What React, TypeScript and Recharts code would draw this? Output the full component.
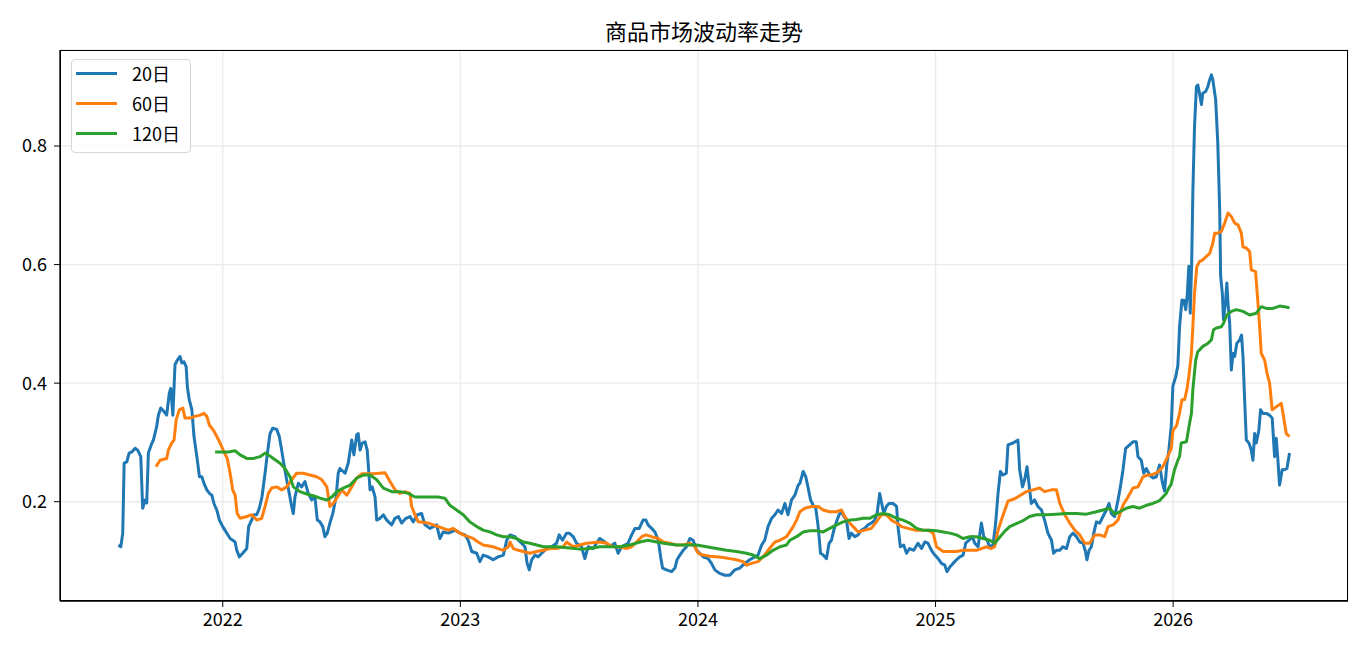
import React from 'react';
import { CartesianGrid, Legend, Line, LineChart, XAxis, YAxis } from 'recharts';

const FONT = '"Noto Sans CJK SC", "Noto Sans", sans-serif';

const title = '商品市场波动率走势';
const yearTicks = [2022, 2023, 2024, 2025, 2026];
const volTicks = [0.2, 0.4, 0.6, 0.8];

// 20日 (time as decimal year)
const t20 = [
  2021.561, 2021.571, 2021.579, 2021.585, 2021.596, 2021.606, 2021.617, 2021.631, 2021.642, 2021.655,
  2021.663, 2021.673, 2021.68, 2021.687, 2021.701, 2021.708, 2021.722, 2021.729, 2021.739, 2021.753,
  2021.764, 2021.775, 2021.781, 2021.79, 2021.799, 2021.809, 2021.82, 2021.828, 2021.837, 2021.846,
  2021.851, 2021.859, 2021.87, 2021.879, 2021.891, 2021.902, 2021.912, 2021.921, 2021.933, 2021.944,
  2021.954, 2021.963, 2021.975, 2021.986, 2022.0, 2022.014, 2022.031, 2022.042, 2022.052, 2022.059,
  2022.07, 2022.084, 2022.101, 2022.109, 2022.118, 2022.132, 2022.143, 2022.154, 2022.165, 2022.178,
  2022.188, 2022.199, 2022.21, 2022.227, 2022.238, 2022.248, 2022.258, 2022.269, 2022.28, 2022.29,
  2022.297, 2022.304, 2022.318, 2022.332, 2022.346, 2022.36, 2022.374, 2022.388, 2022.398, 2022.409,
  2022.421, 2022.43, 2022.44, 2022.451, 2022.463, 2022.477, 2022.486, 2022.493, 2022.515, 2022.528,
  2022.543, 2022.552, 2022.564, 2022.57, 2022.578, 2022.587, 2022.599, 2022.608, 2022.62, 2022.629,
  2022.641, 2022.648, 2022.662, 2022.676, 2022.69, 2022.711, 2022.725, 2022.739, 2022.753, 2022.771,
  2022.788, 2022.802, 2022.819, 2022.837, 2022.851, 2022.872, 2022.886, 2022.9, 2022.914, 2022.928,
  2022.949, 2022.963, 2022.977, 2022.998, 2023.019, 2023.033, 2023.048, 2023.069, 2023.082, 2023.096,
  2023.117, 2023.138, 2023.159, 2023.181, 2023.195, 2023.209, 2023.23, 2023.244, 2023.258, 2023.272,
  2023.281, 2023.29, 2023.3, 2023.314, 2023.328, 2023.342, 2023.363, 2023.384, 2023.405, 2023.416,
  2023.43, 2023.447, 2023.458, 2023.475, 2023.489, 2023.51, 2023.524, 2023.538, 2023.559, 2023.573,
  2023.587, 2023.608, 2023.629, 2023.65, 2023.664, 2023.679, 2023.692, 2023.706, 2023.721, 2023.735,
  2023.753, 2023.769, 2023.781, 2023.79, 2023.805, 2023.819, 2023.833, 2023.843, 2023.851, 2023.868,
  2023.889, 2023.903, 2023.912, 2023.924, 2023.938, 2023.952, 2023.966, 2023.98, 2023.994, 2024.008,
  2024.022, 2024.043, 2024.057, 2024.071, 2024.092, 2024.113, 2024.134, 2024.155, 2024.176, 2024.197,
  2024.218, 2024.239, 2024.253, 2024.268, 2024.281, 2024.295, 2024.31, 2024.324, 2024.337, 2024.352,
  2024.366, 2024.379, 2024.394, 2024.408, 2024.422, 2024.429, 2024.443, 2024.454, 2024.464, 2024.474,
  2024.485, 2024.496, 2024.506, 2024.516, 2024.527, 2024.541, 2024.552, 2024.562, 2024.572, 2024.583,
  2024.594, 2024.604, 2024.615, 2024.625, 2024.636, 2024.646, 2024.66, 2024.674, 2024.688, 2024.702,
  2024.716, 2024.73, 2024.744, 2024.754, 2024.765, 2024.772, 2024.782, 2024.793, 2024.804, 2024.821,
  2024.836, 2024.842, 2024.852, 2024.866, 2024.878, 2024.891, 2024.908, 2024.926, 2024.941, 2024.955,
  2024.968, 2024.983, 2024.997, 2025.011, 2025.025, 2025.039, 2025.048, 2025.06, 2025.074, 2025.088,
  2025.102, 2025.116, 2025.127, 2025.141, 2025.155, 2025.165, 2025.179, 2025.193, 2025.203, 2025.217,
  2025.228, 2025.242, 2025.253, 2025.263, 2025.273, 2025.284, 2025.298, 2025.305, 2025.326, 2025.347,
  2025.354, 2025.366, 2025.375, 2025.385, 2025.393, 2025.403, 2025.417, 2025.431, 2025.446, 2025.459,
  2025.473, 2025.488, 2025.497, 2025.509, 2025.523, 2025.536, 2025.551, 2025.565, 2025.578, 2025.593,
  2025.607, 2025.621, 2025.631, 2025.637, 2025.646, 2025.656, 2025.666, 2025.677, 2025.691, 2025.705,
  2025.719, 2025.73, 2025.74, 2025.754, 2025.768, 2025.778, 2025.789, 2025.8, 2025.817, 2025.831,
  2025.845, 2025.852, 2025.866, 2025.876, 2025.887, 2025.901, 2025.915, 2025.929, 2025.943, 2025.955,
  2025.964, 2025.974, 2025.982, 2025.992, 2025.999, 2026.011, 2026.02, 2026.027, 2026.037, 2026.045,
  2026.053, 2026.06, 2026.066, 2026.072, 2026.078, 2026.083, 2026.09, 2026.098, 2026.104, 2026.111,
  2026.119, 2026.125, 2026.137, 2026.146, 2026.154, 2026.161, 2026.167, 2026.179, 2026.188, 2026.196,
  2026.2, 2026.207, 2026.212, 2026.221, 2026.226, 2026.232, 2026.238, 2026.245, 2026.252, 2026.259,
  2026.268, 2026.28, 2026.288, 2026.294, 2026.301, 2026.308, 2026.319, 2026.329, 2026.336, 2026.343,
  2026.35, 2026.361, 2026.368, 2026.378, 2026.392, 2026.406, 2026.417, 2026.427, 2026.434, 2026.441,
  2026.448, 2026.459, 2026.469, 2026.479, 2026.49,
];
const v20 = [
  0.127, 0.124, 0.147, 0.265, 0.267, 0.282, 0.284, 0.29, 0.287, 0.276,
  0.189, 0.203, 0.198, 0.282, 0.298, 0.304, 0.327, 0.346, 0.358, 0.352,
  0.346, 0.383, 0.391, 0.346, 0.431, 0.439, 0.445, 0.434, 0.436, 0.428,
  0.394, 0.372, 0.355, 0.31, 0.276, 0.242, 0.242, 0.231, 0.22, 0.214,
  0.211, 0.197, 0.186, 0.169, 0.158, 0.149, 0.138, 0.135, 0.132, 0.118,
  0.107, 0.113, 0.121, 0.158, 0.166, 0.178, 0.178, 0.189, 0.208, 0.248,
  0.282, 0.315, 0.324, 0.322, 0.31, 0.287, 0.262, 0.237, 0.214, 0.192,
  0.18, 0.208, 0.231, 0.225, 0.234, 0.214, 0.203, 0.208, 0.169, 0.166,
  0.158, 0.141, 0.147, 0.164, 0.18, 0.208, 0.248, 0.256, 0.248, 0.265,
  0.304, 0.279, 0.313, 0.315, 0.287, 0.299, 0.301, 0.287, 0.22, 0.225,
  0.208, 0.169, 0.172, 0.178, 0.169, 0.161, 0.172, 0.175, 0.164, 0.172,
  0.175, 0.166, 0.178, 0.18, 0.161, 0.155, 0.158, 0.161, 0.138, 0.149,
  0.147, 0.149, 0.152, 0.147, 0.144, 0.135, 0.116, 0.113, 0.099, 0.11,
  0.107, 0.102, 0.107, 0.11, 0.135, 0.144, 0.141, 0.135, 0.13, 0.124,
  0.096, 0.085, 0.102, 0.11, 0.107, 0.113, 0.121, 0.124, 0.13, 0.144,
  0.135, 0.147, 0.147, 0.141, 0.13, 0.124, 0.104, 0.124, 0.121, 0.13,
  0.138, 0.132, 0.124, 0.13, 0.113, 0.124, 0.127, 0.13, 0.144, 0.155,
  0.155, 0.169, 0.169, 0.161, 0.155, 0.149, 0.135, 0.107, 0.088, 0.085,
  0.082, 0.088, 0.102, 0.11, 0.118, 0.124, 0.138, 0.135, 0.118, 0.113,
  0.107, 0.104, 0.096, 0.085, 0.079, 0.076, 0.076, 0.085, 0.088, 0.096,
  0.102, 0.107, 0.11, 0.127, 0.135, 0.158, 0.172, 0.178, 0.186, 0.18,
  0.197, 0.178, 0.203, 0.211, 0.228, 0.231, 0.251, 0.242, 0.223, 0.203,
  0.194, 0.189, 0.158, 0.113, 0.11, 0.104, 0.13, 0.135, 0.152, 0.166,
  0.178, 0.183, 0.175, 0.169, 0.138, 0.147, 0.141, 0.144, 0.152, 0.155,
  0.161, 0.164, 0.169, 0.18, 0.214, 0.2, 0.18, 0.192, 0.197, 0.197,
  0.192, 0.158, 0.124, 0.127, 0.113, 0.121, 0.118, 0.13, 0.121, 0.132,
  0.13, 0.118, 0.11, 0.104, 0.096, 0.093, 0.082, 0.09, 0.096, 0.102,
  0.107, 0.11, 0.13, 0.135, 0.141, 0.13, 0.124, 0.164, 0.141, 0.135,
  0.124, 0.127, 0.164, 0.214, 0.251, 0.245, 0.248, 0.296, 0.299, 0.304,
  0.254, 0.225, 0.237, 0.259, 0.231, 0.197, 0.203, 0.192, 0.186, 0.169,
  0.147, 0.135, 0.113, 0.118, 0.118, 0.124, 0.121, 0.141, 0.147, 0.141,
  0.132, 0.13, 0.116, 0.102, 0.118, 0.124, 0.147, 0.166, 0.164, 0.175,
  0.186, 0.197, 0.18, 0.175, 0.203, 0.225, 0.254, 0.29, 0.296, 0.301,
  0.301, 0.276, 0.27, 0.248, 0.256, 0.245, 0.24, 0.242, 0.262, 0.232,
  0.218, 0.265, 0.287, 0.327, 0.395, 0.411, 0.43, 0.495, 0.54, 0.54,
  0.524, 0.552, 0.597, 0.518, 0.602, 0.721, 0.833, 0.9, 0.903, 0.889,
  0.87, 0.889, 0.892, 0.9, 0.912, 0.92, 0.912, 0.878, 0.805, 0.692,
  0.58, 0.552, 0.507, 0.54, 0.569, 0.529, 0.501, 0.422, 0.45, 0.445,
  0.467, 0.473, 0.481, 0.445, 0.372, 0.304, 0.299, 0.287, 0.27, 0.315,
  0.299, 0.321, 0.355, 0.349, 0.349, 0.346, 0.341, 0.276, 0.307, 0.27,
  0.228, 0.254, 0.254, 0.256, 0.282,
];

// 60日
const t60 = [
  2021.719, 2021.736, 2021.764, 2021.771, 2021.785, 2021.795, 2021.804, 2021.817, 2021.832, 2021.841,
  2021.862, 2021.883, 2021.905, 2021.921, 2021.933, 2021.944, 2021.96, 2021.975, 2021.989, 2022.005,
  2022.019, 2022.031, 2022.042, 2022.052, 2022.061, 2022.073, 2022.101, 2022.122, 2022.143, 2022.164,
  2022.178, 2022.192, 2022.206, 2022.227, 2022.248, 2022.269, 2022.29, 2022.311, 2022.339, 2022.367,
  2022.395, 2022.417, 2022.438, 2022.451, 2022.465, 2022.48, 2022.501, 2022.522, 2022.543, 2022.564,
  2022.585, 2022.634, 2022.683, 2022.704, 2022.725, 2022.746, 2022.767, 2022.788, 2022.795, 2022.809,
  2022.823, 2022.865, 2022.907, 2022.949, 2022.97, 2022.991, 2023.012, 2023.033, 2023.054, 2023.075,
  2023.096, 2023.138, 2023.159, 2023.181, 2023.202, 2023.209, 2023.223, 2023.244, 2023.265, 2023.293,
  2023.321, 2023.349, 2023.377, 2023.405, 2023.433, 2023.447, 2023.475, 2023.503, 2023.531, 2023.587,
  2023.616, 2023.643, 2023.671, 2023.7, 2023.721, 2023.742, 2023.763, 2023.781, 2023.805, 2023.833,
  2023.854, 2023.882, 2023.91, 2023.938, 2023.966, 2023.987, 2024.001, 2024.022, 2024.05, 2024.078,
  2024.106, 2024.134, 2024.162, 2024.19, 2024.204, 2024.226, 2024.253, 2024.274, 2024.295, 2024.324,
  2024.345, 2024.373, 2024.401, 2024.415, 2024.429, 2024.45, 2024.478, 2024.506, 2024.527, 2024.555,
  2024.583, 2024.604, 2024.618, 2024.639, 2024.66, 2024.674, 2024.702, 2024.73, 2024.751, 2024.772,
  2024.793, 2024.814, 2024.836, 2024.857, 2024.884, 2024.913, 2024.968, 2024.99, 2025.004, 2025.032,
  2025.088, 2025.116, 2025.172, 2025.193, 2025.214, 2025.235, 2025.249, 2025.263, 2025.284, 2025.305,
  2025.333, 2025.354, 2025.382, 2025.41, 2025.438, 2025.459, 2025.488, 2025.509, 2025.523, 2025.544,
  2025.565, 2025.586, 2025.607, 2025.628, 2025.649, 2025.67, 2025.691, 2025.712, 2025.726, 2025.747,
  2025.768, 2025.789, 2025.81, 2025.831, 2025.852, 2025.873, 2025.894, 2025.915, 2025.936, 2025.957,
  2025.978, 2025.992, 2025.999, 2026.014, 2026.027, 2026.037, 2026.048, 2026.058, 2026.066, 2026.077,
  2026.083, 2026.09, 2026.1, 2026.111, 2026.125, 2026.14, 2026.154, 2026.167, 2026.175, 2026.188,
  2026.203, 2026.217, 2026.231, 2026.245, 2026.259, 2026.273, 2026.287, 2026.294, 2026.308, 2026.322,
  2026.329, 2026.347, 2026.357, 2026.364, 2026.371, 2026.385, 2026.395, 2026.406, 2026.417, 2026.434,
  2026.455, 2026.465, 2026.476, 2026.49,
];
const v60 = [
  0.259, 0.27, 0.273, 0.287, 0.299, 0.304, 0.338, 0.355, 0.358, 0.341,
  0.341, 0.344, 0.346, 0.349, 0.344, 0.329, 0.321, 0.31, 0.299, 0.284,
  0.273, 0.248, 0.22, 0.211, 0.18, 0.172, 0.175, 0.178, 0.169, 0.172,
  0.192, 0.214, 0.223, 0.225, 0.22, 0.225, 0.237, 0.248, 0.248, 0.245,
  0.242, 0.237, 0.225, 0.192, 0.197, 0.206, 0.22, 0.211, 0.225, 0.24,
  0.247, 0.247, 0.249, 0.234, 0.22, 0.214, 0.217, 0.214, 0.192, 0.178,
  0.166, 0.164, 0.158, 0.152, 0.155, 0.149, 0.144, 0.141, 0.138, 0.132,
  0.127, 0.124, 0.121, 0.118, 0.124, 0.132, 0.121, 0.118, 0.116, 0.113,
  0.116, 0.118, 0.121, 0.121, 0.124, 0.132, 0.124, 0.127, 0.13, 0.132,
  0.13, 0.124, 0.124, 0.121, 0.124, 0.132, 0.141, 0.144, 0.141, 0.138,
  0.132, 0.13, 0.127, 0.127, 0.13, 0.124, 0.113, 0.11, 0.108, 0.107,
  0.106, 0.104, 0.102, 0.099, 0.093, 0.096, 0.099, 0.107, 0.118, 0.132,
  0.135, 0.141, 0.158, 0.169, 0.183, 0.189, 0.192, 0.192, 0.186, 0.183,
  0.183, 0.186, 0.175, 0.164, 0.155, 0.149, 0.152, 0.155, 0.166, 0.178,
  0.178, 0.169, 0.164, 0.158, 0.155, 0.152, 0.152, 0.147, 0.124, 0.116,
  0.116, 0.118, 0.118, 0.121, 0.124, 0.121, 0.124, 0.152, 0.177, 0.201,
  0.205, 0.21, 0.217, 0.22, 0.223, 0.217, 0.22, 0.22, 0.197, 0.178,
  0.164, 0.152, 0.144, 0.13, 0.13, 0.144, 0.144, 0.141, 0.158, 0.161,
  0.169, 0.194, 0.208, 0.223, 0.225, 0.242, 0.245, 0.246, 0.25, 0.259,
  0.277, 0.29, 0.32, 0.328, 0.349, 0.372, 0.372, 0.389, 0.411, 0.45,
  0.495, 0.552, 0.597, 0.605, 0.608, 0.614, 0.619, 0.636, 0.653, 0.653,
  0.656, 0.67, 0.687, 0.681, 0.67, 0.667, 0.653, 0.63, 0.628, 0.622,
  0.591, 0.588, 0.535, 0.495, 0.45, 0.439, 0.417, 0.4, 0.355, 0.36,
  0.366, 0.343, 0.315, 0.31,
];

// 120日
const t120 = [
  2021.968, 2021.996, 2022.024, 2022.052, 2022.073, 2022.101, 2022.129, 2022.157, 2022.178, 2022.192,
  2022.213, 2022.241, 2022.262, 2022.283, 2022.297, 2022.325, 2022.353, 2022.381, 2022.409, 2022.438,
  2022.459, 2022.48, 2022.507, 2022.536, 2022.564, 2022.592, 2022.62, 2022.648, 2022.676, 2022.711,
  2022.746, 2022.781, 2022.809, 2022.837, 2022.872, 2022.907, 2022.935, 2022.956, 2022.984, 2023.012,
  2023.04, 2023.069, 2023.096, 2023.125, 2023.153, 2023.181, 2023.209, 2023.237, 2023.265, 2023.293,
  2023.321, 2023.349, 2023.405, 2023.461, 2023.503, 2023.545, 2023.587, 2023.629, 2023.671, 2023.714,
  2023.756, 2023.79, 2023.826, 2023.868, 2023.91, 2023.952, 2023.994, 2024.036, 2024.078, 2024.12,
  2024.162, 2024.204, 2024.232, 2024.26, 2024.289, 2024.316, 2024.345, 2024.373, 2024.387, 2024.415,
  2024.443, 2024.471, 2024.499, 2024.527, 2024.555, 2024.583, 2024.611, 2024.639, 2024.667, 2024.695,
  2024.723, 2024.751, 2024.779, 2024.807, 2024.836, 2024.863, 2024.891, 2024.92, 2024.947, 2024.976,
  2025.004, 2025.032, 2025.06, 2025.088, 2025.116, 2025.144, 2025.172, 2025.2, 2025.228, 2025.249,
  2025.27, 2025.291, 2025.312, 2025.34, 2025.368, 2025.396, 2025.425, 2025.467, 2025.509, 2025.551,
  2025.593, 2025.635, 2025.677, 2025.705, 2025.733, 2025.754, 2025.775, 2025.803, 2025.831, 2025.859,
  2025.887, 2025.915, 2025.943, 2025.957, 2025.971, 2025.978, 2025.992, 2026.006, 2026.02, 2026.027,
  2026.034, 2026.056, 2026.069, 2026.077, 2026.083, 2026.095, 2026.104, 2026.125, 2026.146, 2026.161,
  2026.17, 2026.182, 2026.203, 2026.212, 2026.226, 2026.245, 2026.266, 2026.294, 2026.322, 2026.35,
  2026.371, 2026.392, 2026.42, 2026.448, 2026.469, 2026.49,
];
const v120 = [
  0.284, 0.284, 0.284, 0.286, 0.279, 0.273, 0.273, 0.276, 0.282, 0.279,
  0.273, 0.265, 0.256, 0.242, 0.225, 0.217, 0.213, 0.21, 0.206, 0.203,
  0.208, 0.217, 0.223, 0.228, 0.24, 0.245, 0.245, 0.237, 0.223, 0.217,
  0.217, 0.214, 0.208, 0.208, 0.208, 0.208, 0.206, 0.194, 0.186, 0.178,
  0.166, 0.158, 0.152, 0.149, 0.144, 0.141, 0.141, 0.138, 0.132, 0.13,
  0.127, 0.124, 0.124, 0.122, 0.12, 0.121, 0.124, 0.124, 0.124, 0.127,
  0.132, 0.135, 0.132, 0.129, 0.127, 0.127, 0.127, 0.124, 0.121, 0.118,
  0.116, 0.113, 0.11, 0.104, 0.11, 0.118, 0.124, 0.127, 0.135, 0.141,
  0.149, 0.151, 0.151, 0.149, 0.155, 0.161, 0.166, 0.169, 0.17, 0.172,
  0.172, 0.178, 0.18, 0.178, 0.172, 0.169, 0.164, 0.155, 0.152, 0.152,
  0.151, 0.149, 0.147, 0.144, 0.138, 0.141, 0.141, 0.138, 0.135, 0.13,
  0.14, 0.15, 0.158, 0.163, 0.168, 0.175, 0.178, 0.178, 0.179, 0.18,
  0.18, 0.179, 0.183, 0.186, 0.189, 0.179, 0.183, 0.189, 0.192, 0.189,
  0.194, 0.197, 0.202, 0.208, 0.214, 0.22, 0.23, 0.254, 0.27, 0.276,
  0.299, 0.301, 0.332, 0.349, 0.389, 0.439, 0.453, 0.462, 0.467, 0.473,
  0.49, 0.493, 0.495, 0.501, 0.515, 0.521, 0.524, 0.521, 0.515, 0.518,
  0.529, 0.526, 0.526, 0.53, 0.529, 0.527,
];

const series = [
  { name: '20日', color: '#1f77b4', t: t20, v: v20 },
  { name: '60日', color: '#ff7f0e', t: t60, v: v60 },
  { name: '120日', color: '#2ca02c', t: t120, v: v120 },
];

const X_DOMAIN: [number, number] = [2021.315, 2026.736];
const Y_DOMAIN: [number, number] = [0.0325, 0.962];

const tickStyle = { fill: '#000', fontSize: 18, fontFamily: FONT };
const axisStroke = { stroke: '#000', strokeWidth: 1.3 };

const LegendBox = () => (
  <div
    style={{
      border: '1px solid #d6d6d6',
      borderRadius: 4,
      background: 'rgba(255,255,255,0.8)',
      padding: '0 10px 4px 4px',
      fontFamily: FONT,
      fontSize: 18,
      color: '#000',
    }}
  >
    <div style={{ marginTop: -2 }}>
      {series.map((s) => (
        <div key={s.name} style={{ display: 'flex', alignItems: 'center', height: 30 }}>
          <span style={{ display: 'inline-block', width: 41, height: 3, background: s.color, marginRight: 15 }} />
          <span>{s.name}</span>
        </div>
      ))}
    </div>
  </div>
);

export default function App() {
  return (
    <div style={{ position: 'absolute', left: 0, top: 0, width: 1368, height: 657, background: '#fff' }}>
      <div
        style={{
          position: 'absolute',
          left: 60,
          width: 1288,
          top: 19,
          textAlign: 'center',
          fontFamily: FONT,
          fontSize: 22,
          lineHeight: '22px',
          color: '#000',
        }}
      >
        {title}
      </div>
      <LineChart width={1368} height={657} margin={{ top: 50, right: 20, bottom: 16, left: 10 }}>
        <CartesianGrid stroke="#ebebeb" strokeWidth={1.4} />
        <XAxis
          dataKey="t"
          type="number"
          domain={X_DOMAIN}
          ticks={yearTicks}
          allowDataOverflow
          tickFormatter={(v) => String(v)}
          tick={tickStyle}
          axisLine={axisStroke}
          tickLine={{ stroke: '#000' }}
          tickSize={6}
          tickMargin={6}
          height={40}
        />
        <YAxis
          type="number"
          domain={Y_DOMAIN}
          ticks={volTicks}
          allowDataOverflow
          tickFormatter={(v) => Number(v).toFixed(1)}
          tick={tickStyle}
          axisLine={axisStroke}
          tickLine={{ stroke: '#000' }}
          tickSize={6}
          tickMargin={7}
          width={50}
        />
        <Legend
          layout="vertical"
          align="center"
          verticalAlign="middle"
          content={() => <LegendBox />}
          wrapperStyle={{ left: 71, top: 59, width: 'auto' }}
        />
        {series.map((s) => (
          <Line
            key={s.name}
            data={s.t.map((t, i) => ({ t, v: s.v[i] }))}
            dataKey="v"
            name={s.name}
            type="linear"
            stroke={s.color}
            strokeWidth={3}
            strokeLinejoin="round"
            dot={false}
            activeDot={false}
            isAnimationActive={false}
          />
        ))}
      </LineChart>
      {/* full frame round the plot, like matplotlib spines */}
      <div
        style={{
          position: 'absolute',
          left: 60,
          top: 50,
          width: 1288,
          height: 551,
          boxSizing: 'border-box',
          border: '1.3px solid #000',
          pointerEvents: 'none',
        }}
      />
    </div>
  );
}
